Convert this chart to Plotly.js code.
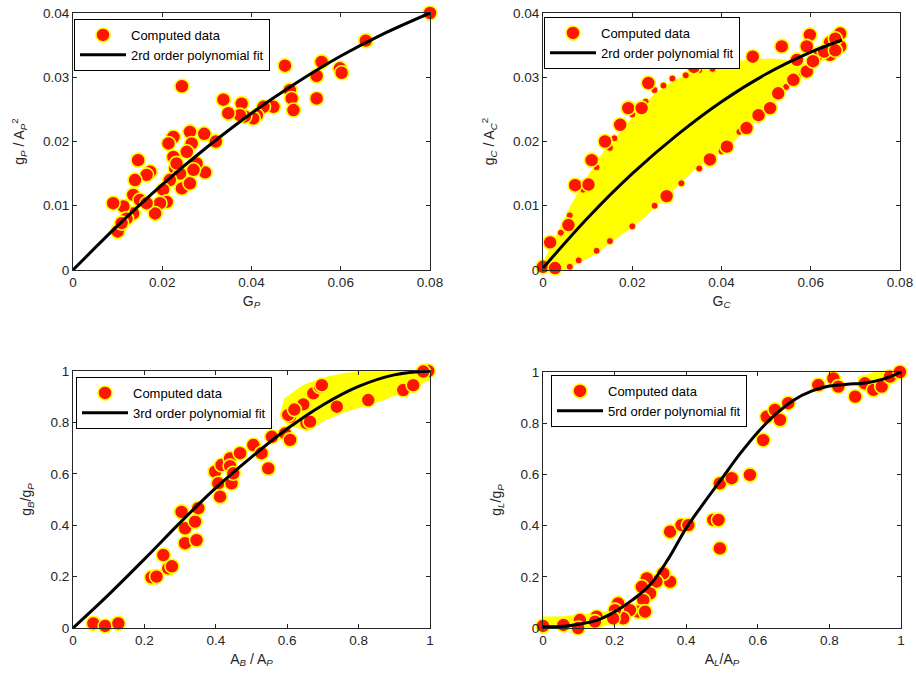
<!DOCTYPE html>
<html>
<head>
<meta charset="utf-8">
<script src="https://cdn.plot.ly/plotly-3.0.1.min.js"></script>
<style>html,body{margin:0;padding:0;background:#fff}#chart{width:916px;height:677px}</style>
</head>
<body>
<div id="chart"></div>
<script>
// ---------- Panel 1 : g_P / A_P^2 vs G_P ----------
const p1X = [0.080,0.0656,0.0557,0.0546,0.0546,0.0475,0.0486,0.0490,0.0494,0.0598,0.0602,0.0449,0.0427,0.0412,0.0404,0.0385,0.0378,0.0374,0.0348,0.0337,0.0320,0.0294,0.0296,0.0277,0.0262,0.0266,0.0255,0.0244,0.0225,0.0214,0.0225,0.0229,0.0240,0.0244,0.0262,0.0217,0.0202,0.0210,0.0195,0.0184,0.0173,0.0165,0.0146,0.0139,0.0135,0.0150,0.0165,0.0135,0.0113,0.0120,0.0090,0.0102,0.0100,0.0109,0.0270,0.0232];
const p1Y = [0.0400,0.0357,0.0324,0.0302,0.0267,0.0318,0.0280,0.0267,0.0249,0.0314,0.0307,0.0254,0.0254,0.0241,0.0236,0.0239,0.0259,0.0241,0.0244,0.0265,0.0200,0.0212,0.0152,0.0166,0.0215,0.0197,0.0184,0.0286,0.0207,0.0197,0.0176,0.0158,0.0150,0.0127,0.0135,0.0140,0.0125,0.0106,0.0104,0.0088,0.0153,0.0148,0.0171,0.0140,0.0117,0.0109,0.0104,0.0088,0.0099,0.0080,0.0104,0.0062,0.0060,0.0073,0.0156,0.0166];
const p1FitX = [0,0.01,0.02,0.03,0.04,0.05,0.06,0.07,0.08];
const p1FitY = [0,0.0069,0.0133,0.0191,0.0244,0.0291,0.0333,0.0369,0.0400];

// ---------- Panel 2 : g_C / A_C^2 vs G_C ----------
const p2CloudX = [0,0.0031,0.0068,0.0105,0.0143,0.0180,0.0217,0.0255,0.0292,0.0329,0.0367,0.0426,0.0479,0.0524,0.0560,0.0588,
                  0.0595,0.0561,0.0527,0.0509,0.0486,0.0456,0.0412,0.0374,0.0338,0.0273,0.0225,0.0173,0.0113,0.0038,0];
const p2CloudY = [0.0003,0.0048,0.0100,0.0145,0.0185,0.0215,0.0245,0.0272,0.0290,0.0302,0.0310,0.0320,0.0325,0.0325,0.0321,0.0318,
                  0.0309,0.0296,0.0275,0.0256,0.0242,0.0225,0.0195,0.0178,0.0160,0.0117,0.0085,0.0058,0.0027,0.0000,0];
const p2X = [0.0000,0.0027,0.0016,0.0057,0.0072,0.0102,0.0109,0.0139,0.0173,0.0191,0.0221,0.0236,0.0338,0.0277,0.0374,0.0412,0.0456,0.0483,0.0509,0.0527,0.0535,0.0561,0.0591,0.0598,0.0591,0.0621,0.0643,0.0643,0.0666,0.0666,0.0655,0.0569,0.0470,0.0426,0.0605,0.0630,0.0655];
const p2Y = [0.0005,0.0003,0.0043,0.0070,0.0132,0.0133,0.0171,0.0200,0.0226,0.0252,0.0252,0.0291,0.0316,0.0115,0.0172,0.0192,0.0221,0.0241,0.0252,0.0275,0.0348,0.0296,0.0309,0.0366,0.0348,0.0337,0.0335,0.0354,0.0368,0.0348,0.0360,0.0327,0.0332,0.0324,0.0325,0.0340,0.0342];
const p2EdgeX = [0.0040,0.0060,0.0090,0.0120,0.0150,0.0160,0.0200,0.0230,0.0250,0.0270,0.0290,0.0320,0.0350,0.0380,0.0400,0.0060,0.0080,0.0120,0.0150,0.0200,0.0250,0.0310,0.0350,0.0400,0.0440,0.0480,0.0500,0.0545,0.0580];
const p2EdgeY = [0.0058,0.0085,0.0125,0.0160,0.0190,0.0205,0.0242,0.0262,0.0280,0.0287,0.0298,0.0303,0.0311,0.0313,0.0318,0.0005,0.0015,0.0030,0.0045,0.0068,0.0100,0.0135,0.0158,0.0185,0.0215,0.0235,0.0250,0.0285,0.0305];
const p2FitX = [0,0.01,0.02,0.03,0.04,0.05,0.06,0.067];
const p2FitY = [0.0003,0.0081,0.0150,0.0210,0.0262,0.0305,0.0339,0.0358];

// ---------- Panel 3 : g_B/g_P vs A_B/A_P ----------
const p3CloudX = [0.585,0.598,0.645,0.692,0.757,0.832,0.888,0.963,1.000,1.000,0.934,0.869,0.804,0.748,0.701,0.664,0.636,0.600];
const p3CloudY = [0.820,0.887,0.935,0.962,0.982,0.998,1.005,1.005,1.005,0.975,0.935,0.895,0.868,0.843,0.815,0.785,0.785,0.800];
const p3X = [0.057,0.090,0.127,0.220,0.234,0.253,0.267,0.277,0.304,0.314,0.314,0.342,0.346,0.351,0.398,0.407,0.412,0.416,0.440,0.440,0.444,0.449,0.468,0.505,0.528,0.547,0.557,0.594,0.608,0.608,0.654,0.673,0.692,0.739,0.827,0.925,0.995,0.953,0.981,0.697,0.664,0.603,0.645,0.620];
const p3Y = [0.018,0.008,0.018,0.197,0.200,0.284,0.232,0.240,0.452,0.388,0.330,0.414,0.342,0.466,0.608,0.563,0.511,0.634,0.660,0.630,0.563,0.602,0.680,0.712,0.680,0.621,0.744,0.757,0.732,0.822,0.797,0.913,0.939,0.861,0.887,0.926,1.000,0.945,0.998,0.945,0.803,0.829,0.870,0.850];
const p3FitX = [0,0.1,0.2,0.3,0.4,0.5,0.6,0.7,0.8,0.9,1.0];
const p3FitY = [0,0.130,0.268,0.410,0.545,0.665,0.775,0.868,0.940,0.985,1.000];

// ---------- Panel 4 : g_L/g_P vs A_L/A_P ----------
const p4BandX = [0,0.05,0.10,0.15,0.19,0.19,0.15,0.10,0.05,0];
const p4BandY = [0.035,0.035,0.042,0.050,0.058,0.030,0.005,-0.005,-0.008,-0.010];
const p4TopX = [0.880,0.920,0.960,1.000,1.000,0.960,0.920,0.880];
const p4TopY = [0.970,0.990,1.005,1.010,0.985,0.955,0.930,0.950];
const p4X = [0.355,0.387,0.406,0.476,0.490,0.494,0.494,0.527,0.578,0.615,0.625,0.648,0.662,0.685,0.769,0.811,0.825,0.872,0.899,0.923,0.946,0.969,0.997,0.355,0.336,0.317,0.290,0.276,0.299,0.280,0.266,0.285,0.243,0.224,0.210,0.201,0.196,0.150,0.145,0.103,0.098,0.057,0.000];
const p4Y = [0.376,0.402,0.402,0.422,0.422,0.311,0.565,0.585,0.598,0.734,0.825,0.852,0.813,0.878,0.949,0.975,0.943,0.904,0.956,0.930,0.943,0.982,1.000,0.181,0.213,0.181,0.194,0.161,0.135,0.109,0.064,0.064,0.070,0.038,0.096,0.070,0.038,0.044,0.025,0.031,0.000,0.012,0.008];
const p4FitX = [0,0.05,0.10,0.15,0.20,0.25,0.30,0.35,0.40,0.45,0.50,0.55,0.60,0.65,0.70,0.75,0.80,0.85,0.90,0.95,1.00];
const p4FitY = [0.005,0.006,0.015,0.030,0.063,0.110,0.170,0.270,0.390,0.490,0.585,0.680,0.765,0.835,0.890,0.925,0.945,0.952,0.957,0.972,1.000];

// ---------- styles ----------
const RED = '#ff1500', YEL = '#ffff00';
const mk = {size: 14, color: RED, line: {color: YEL, width: 1.6}};
const mkSmall = {size: 7, color: RED, line: {color: YEL, width: 1}};
const fitLine = {color: '#000', width: 3, shape: 'spline'};

function cloud(x, y, xa, ya) {
  return {x, y, xaxis: xa, yaxis: ya, type: 'scatter', mode: 'lines', fill: 'toself',
          fillcolor: YEL, line: {color: YEL, width: 5}, showlegend: false, hoverinfo: 'skip'};
}
function pts(x, y, xa, ya, lg, show) {
  return {x, y, xaxis: xa, yaxis: ya, type: 'scatter', mode: 'markers', marker: mk, cliponaxis: false,
          name: 'Computed data', legend: lg, showlegend: show};
}
function fit(x, y, xa, ya, lg, name) {
  return {x, y, xaxis: xa, yaxis: ya, type: 'scatter', mode: 'lines', line: fitLine, name, legend: lg};
}

const traces = [
  pts(p1X, p1Y, 'x', 'y', 'legend', true),
  fit(p1FitX, p1FitY, 'x', 'y', 'legend', '2rd order polynomial fit'),

  cloud(p2CloudX, p2CloudY, 'x2', 'y2'),
  {x: p2EdgeX, y: p2EdgeY, xaxis: 'x2', yaxis: 'y2', type: 'scatter', mode: 'markers', marker: mkSmall, showlegend: false, hoverinfo: 'skip'},
  pts(p2X, p2Y, 'x2', 'y2', 'legend2', true),
  fit(p2FitX, p2FitY, 'x2', 'y2', 'legend2', '2rd order polynomial fit'),

  cloud(p3CloudX, p3CloudY, 'x3', 'y3'),
  pts(p3X, p3Y, 'x3', 'y3', 'legend3', true),
  fit(p3FitX, p3FitY, 'x3', 'y3', 'legend3', '3rd order polynomial fit'),

  cloud(p4BandX, p4BandY, 'x4', 'y4'),
  cloud(p4TopX, p4TopY, 'x4', 'y4'),
  pts(p4X, p4Y, 'x4', 'y4', 'legend4', true),
  fit(p4FitX, p4FitY, 'x4', 'y4', 'legend4', '5rd order polynomial fit')
];

const FONT = 'Liberation Sans, Arial, sans-serif';
const axisBase = {showline: true, linecolor: '#262626', linewidth: 1, mirror: 'ticks', ticks: 'inside', ticklen: 4,
  tickcolor: '#262626', showgrid: false, zeroline: false, tickfont: {family: FONT, size: 13.5, color: '#262626'},
  automargin: false, fixedrange: true};
function ax(extra, title, so) { return Object.assign({}, axisBase, extra, {title: {text: title, font: {family: FONT, size: 14, color: '#262626'}, standoff: so}}); }

const lgBase = {bgcolor: '#fff', bordercolor: '#000', borderwidth: 1, font: {family: FONT, size: 13, color: '#000'},
  xanchor: 'left', yanchor: 'top', tracegroupgap: 0, itemwidth: 46};

const layout = {
  width: 916, height: 677, margin: {l: 0, r: 0, t: 0, b: 0}, paper_bgcolor: '#fff', plot_bgcolor: '#fff',
  font: {family: FONT},
  xaxis:  ax({domain: [73/916, 430/916], range: [0, 0.08], dtick: 0.02, anchor: 'y'}, 'G<sub><i>P</i></sub>', 6),
  yaxis:  ax({domain: [1-270/677, 1-13/677], range: [0, 0.04], dtick: 0.01, anchor: 'x'}, 'g<sub><i>P</i></sub> / A<sub><i>P</i></sub><sup>2</sup>', 15),
  xaxis2: ax({domain: [543/916, 900/916], range: [0, 0.08], dtick: 0.02, anchor: 'y2'}, 'G<sub><i>C</i></sub>', 6),
  yaxis2: ax({domain: [1-270/677, 1-13/677], range: [0, 0.04], dtick: 0.01, anchor: 'x2'}, 'g<sub><i>C</i></sub> / A<sub><i>C</i></sub><sup>2</sup>', 15),
  xaxis3: ax({domain: [73/916, 430/916], range: [0, 1], dtick: 0.2, anchor: 'y3'}, 'A<sub><i>B</i></sub> / A<sub><i>P</i></sub>', 6),
  yaxis3: ax({domain: [1-628/677, 1-371/677], range: [0, 1], dtick: 0.2, anchor: 'x3'}, 'g<sub><i>B</i></sub>/g<sub><i>P</i></sub>', 15),
  xaxis4: ax({domain: [543/916, 901/916], range: [0, 1], dtick: 0.2, anchor: 'y4'}, 'A<sub><i>L</i></sub>/A<sub><i>P</i></sub>', 6),
  yaxis4: ax({domain: [1-628/677, 1-372/677], range: [0, 1], dtick: 0.2, anchor: 'x4'}, 'g<sub><i>L</i></sub>/g<sub><i>P</i></sub>', 15),
  legend:  Object.assign({}, lgBase, {x: 74/916, y: 1-19/677}),
  legend2: Object.assign({}, lgBase, {x: 544/916, y: 1-17/677}),
  legend3: Object.assign({}, lgBase, {x: 76/916, y: 1-377/677}),
  legend4: Object.assign({}, lgBase, {x: 551/916, y: 1-375/677})
};

Plotly.newPlot('chart', traces, layout, {staticPlot: true, displayModeBar: false});
</script>
</body>
</html>
